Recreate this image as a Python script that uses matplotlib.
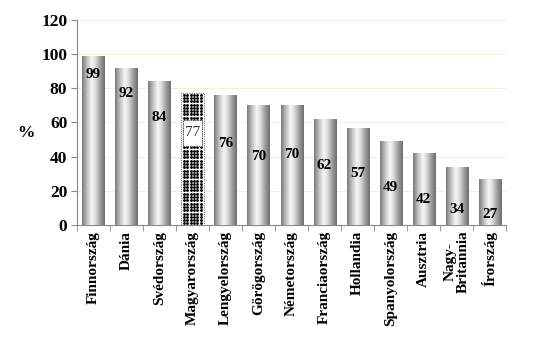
import numpy as np
import matplotlib
matplotlib.use("Agg")
import matplotlib.pyplot as plt
from matplotlib.patches import Rectangle
from matplotlib.colors import LinearSegmentedColormap

countries = ["Finnország", "Dánia", "Svédország", "Magyarország", "Lengyelország",
             "Görögország", "Németország", "Franciaország", "Hollandia",
             "Spanyolország", "Ausztria", "Nagy-\nBritannia", "Írország"]
values = [99, 92, 84, 77, 76, 70, 70, 62, 57, 49, 42, 34, 27]
highlight = "Magyarország"
label_pos = [88, 77, 63, 54, 48, 40, 41, 35, 30, 22, 15, 9, 6]
yticks = [0, 20, 40, 60, 80, 100, 120]

plt.rcParams['font.family'] = ['Liberation Serif', 'DejaVu Serif']

fig = plt.figure(figsize=(5.46, 3.37), dpi=100)
ax = fig.add_axes([0.141, 0.332, 0.786, 0.609])

grad = LinearSegmentedColormap.from_list(
    "cyl", [(0.0, "#7a7a7a"), (0.2, "#bdbdbd"), (0.42, "#f6f6f6"),
            (0.55, "#e4e4e4"), (0.8, "#9e9e9e"), (1.0, "#6e6e6e")])
gimg = np.linspace(0, 1, 64).reshape(1, -1)

width = 0.67
x = np.arange(len(countries))
ax.set_xlim(-0.5, len(countries) - 0.5)
ax.set_ylim(0, 120)

for i, (c, v) in enumerate(zip(countries, values)):
    left = i - width / 2
    if c == highlight:
        bg = Rectangle((left, 0), width, v, facecolor="white", edgecolor="none", zorder=3)
        ax.add_patch(bg)
        # dotted texture (about 3.3 px pitch)
        dx = 3.3 / 33.0
        dy = 3.3 / 1.708
        gx, gy = np.meshgrid(np.arange(left + dx * 0.8, left + width, dx),
                             np.arange(dy / 2, v, dy))
        sc = ax.scatter(gx.ravel(), gy.ravel(), s=4.2, c="black", marker="o",
                        linewidths=0, zorder=3.5)
        sc.set_clip_path(bg)
        ax.add_patch(Rectangle((left, 0), width, v, facecolor="none", edgecolor="#777777",
                               linestyle=(0, (1, 1)), linewidth=0.8, zorder=4))
        ax.add_patch(Rectangle((i - 0.29, label_pos[i] - 7.5), 0.58, 15,
                               facecolor="white", edgecolor="#555555",
                               linestyle=(0, (1, 1)), linewidth=0.8, zorder=4.5))
        ax.text(i, label_pos[i], str(v), ha="center", va="center", fontsize=11,
                color="#333333", zorder=5)
    else:
        r = Rectangle((left, 0), width, v, facecolor="none", edgecolor="none", zorder=3)
        ax.add_patch(r)
        im = ax.imshow(gimg, cmap=grad, aspect="auto", extent=(left, left + width, 0, v),
                       zorder=3, interpolation="bilinear")
        im.set_clip_path(r)
        ax.text(i, label_pos[i], str(v), ha="center", va="center", fontsize=11,
                fontweight="bold", color="black", zorder=5)

ax.set_xlim(-0.5, len(countries) - 0.5)
ax.set_ylim(0, 120)
ax.set_yticks(yticks)
ax.set_yticklabels([str(t) for t in yticks], fontsize=12.5, fontweight="bold")
for t in yticks[1:]:
    ax.axhline(t, color="#f2f2e2", linewidth=0.8, zorder=1)

ax.set_xticks(x)
ax.set_xticklabels(countries, rotation=90, fontsize=11, fontweight="bold",
                   linespacing=0.95)
ax.tick_params(axis="x", length=0, pad=4)
ax.set_xticks(np.arange(-0.5, len(countries), 1), minor=True)
ax.tick_params(axis="x", which="minor", length=4, color="#888888", direction="out")
ax.tick_params(axis="y", length=4, color="#888888", direction="out", pad=3)

for s in ["top", "right"]:
    ax.spines[s].set_visible(False)
for s in ["left", "bottom"]:
    ax.spines[s].set_color("#888888")
    ax.spines[s].set_linewidth(0.8)

fig.text(0.048, 0.605, "%", fontsize=12.5, fontweight="bold", ha="center", va="center")

fig.savefig("out.png", dpi=100)
